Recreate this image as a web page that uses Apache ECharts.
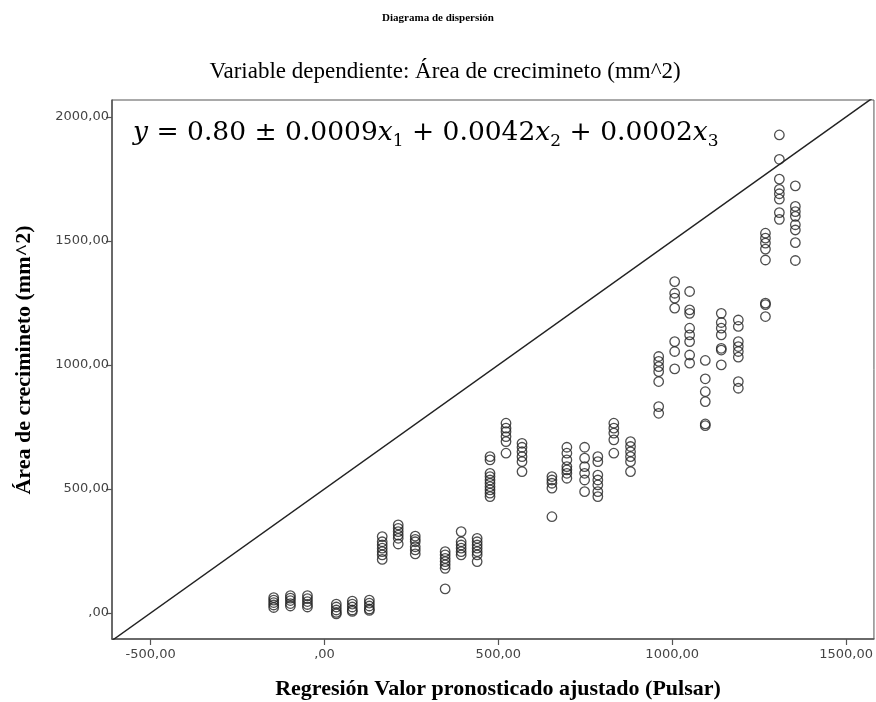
<!DOCTYPE html>
<html><head><meta charset="utf-8">
<script src="https://cdn.jsdelivr.net/npm/echarts@6/dist/echarts.min.js"></script>
<style>html,body{margin:0;padding:0;background:#fff}#c{width:876px;height:702px}</style>
</head><body><div id="c"></div>
<script>
const chartTitle = 'Diagrama de dispersión';
const subTitle = 'Variable dependiente: Área de crecimineto (mm^2)';
const xAxisTitle = 'Regresión Valor pronosticado ajustado (Pulsar)';
const yAxisTitle = 'Área de crecimineto (mm^2)';
const xTickValues = [-500, 0, 500, 1000, 1500];
const xTickLabels = ['-500,00', ',00', '500,00', '1000,00', '1500,00'];
const yTickValues = [0, 500, 1000, 1500, 2000];
const yTickLabels = [',00', '500,00', '1000,00', '1500,00', '2000,00'];
// predicted (x) value of each column of points
const colX = [-146, -98, -49, 34, 80, 129, 166, 212, 261, 347, 393, 439, 476, 522, 568,
  654, 697, 748, 786, 832, 880, 961, 1007, 1050, 1095, 1141, 1190, 1268, 1308, 1354];
// observed (y) values in each column
const colY = [
  [62, 52, 42, 32, 22],
  [70, 60, 50, 38, 28],
  [70, 58, 46, 34, 24],
  [36, 24, 12, 2, -4],
  [48, 36, 24, 12, 6],
  [52, 40, 28, 16, 10],
  [308, 287, 274, 261, 247, 234, 216],
  [355, 341, 328, 314, 301, 278],
  [310, 297, 287, 267, 254, 238],
  [247, 234, 220, 207, 194, 180, 97],
  [328, 287, 274, 261, 247, 234],
  [301, 287, 274, 261, 247, 234, 207],
  [630, 617, 563, 550, 536, 523, 509, 496, 483, 469],
  [765, 745, 731, 711, 691, 644],
  [684, 668, 650, 630, 610, 570],
  [550, 536, 523, 503, 388],
  [668, 644, 617, 590, 577, 563, 543],
  [668, 624, 590, 563, 536, 489],
  [630, 610, 556, 536, 516, 489, 469],
  [765, 745, 725, 698, 644],
  [691, 671, 650, 630, 610, 570],
  [1034, 1014, 993, 973, 933, 832, 805],
  [1336, 1289, 1269, 1229, 1094, 1054, 984],
  [1296, 1222, 1208, 1148, 1121, 1094, 1040, 1007],
  [1018, 944, 892, 852, 762, 755],
  [1208, 1171, 1148, 1121, 1067, 1060, 1000],
  [1181, 1155, 1094, 1074, 1054, 1031, 933, 906],
  [1531, 1511, 1491, 1467, 1423, 1249, 1243, 1195],
  [1927, 1829, 1749, 1708, 1690, 1668, 1614, 1587],
  [1722, 1639, 1618, 1599, 1565, 1544, 1493, 1421]
];
// reference line endpoints
const refLineX = [-611, 1580];
const refLineY = [-111, 2080];

const points = [];
colX.forEach((x, i) => colY[i].forEach(y => points.push([x, y])));

const chart = echarts.init(document.getElementById('c'), null, {renderer: 'canvas'});
const serif = '"Liberation Serif", "DejaVu Serif", serif';
chart.setOption({
  animation: false,
  backgroundColor: '#fff',
  grid: {left: 112, right: 1, top: 100, bottom: 63, show: true, borderColor: '#555', borderWidth: 1},
  xAxis: {
    type: 'value', min: -611, max: 1580,
    axisLine: {show: true, onZero: false, lineStyle: {color: '#555', width: 1.5}},
    axisTick: {show: true, customValues: xTickValues, length: 6, lineStyle: {color: '#555', width: 1.2}},
    axisLabel: {customValues: xTickValues, formatter: v => xTickLabels[xTickValues.indexOf(v)],
      color: '#444', fontFamily: 'DejaVu Sans', fontSize: 13, margin: 9},
    splitLine: {show: false}
  },
  yAxis: {
    type: 'value', min: -105, max: 2068,
    axisLine: {show: true, onZero: false, lineStyle: {color: '#555', width: 1.5}},
    axisTick: {show: true, customValues: yTickValues, length: 6, lineStyle: {color: '#555', width: 1.2}},
    axisLabel: {customValues: yTickValues, formatter: v => yTickLabels[yTickValues.indexOf(v)],
      color: '#444', fontFamily: 'DejaVu Sans', fontSize: 13, margin: 3},
    splitLine: {show: false}
  },
  graphic: [
    {type: 'text', x: 438, y: 18, style: {text: chartTitle, font: 'bold 11px ' + serif, fill: '#000', align: 'center', verticalAlign: 'middle'}},
    {type: 'text', x: 445, y: 72, style: {text: subTitle, font: '23px ' + serif, fill: '#000', align: 'center', verticalAlign: 'middle'}},
    {type: 'text', x: 498, y: 689, style: {text: xAxisTitle, font: 'bold 22px ' + serif, fill: '#000', align: 'center', verticalAlign: 'middle'}},
    {type: 'text', x: 24, y: 360, rotation: Math.PI / 2, style: {text: yAxisTitle, font: 'bold 22px ' + serif, fill: '#000', align: 'center', verticalAlign: 'middle'}},
    {type: 'text', x: 133, y: 133, z: 10, style: {
      text: '{i|y}{n| = 0.80 ± 0.0009}{i|x}{s|1}{n| + 0.0042}{i|x}{s|2}{n| + 0.0002}{i|x}{s|3}',
      align: 'left', verticalAlign: 'middle',
      rich: {
        i: {fontFamily: '"DejaVu Serif", serif', fontStyle: 'italic', fontSize: 26.5, lineHeight: 34, verticalAlign: 'middle', fill: '#000'},
        n: {fontFamily: '"DejaVu Serif", serif', fontSize: 26.5, lineHeight: 34, verticalAlign: 'middle', fill: '#000'},
        s: {fontFamily: '"DejaVu Serif", serif', fontSize: 17, lineHeight: 17, verticalAlign: 'bottom', fill: '#000'}
      }
    }}
  ],
  series: [
    {type: 'scatter', data: points, symbol: 'circle', symbolSize: 9.5,
      itemStyle: {color: 'rgba(0,0,0,0)', borderColor: '#222', borderWidth: 1.3}, silent: true},
    {type: 'line', data: refLineX.map((x, i) => [x, refLineY[i]]), symbol: 'none', clip: true,
      lineStyle: {color: '#222', width: 1.5}, silent: true}
  ]
});
</script></body></html>
